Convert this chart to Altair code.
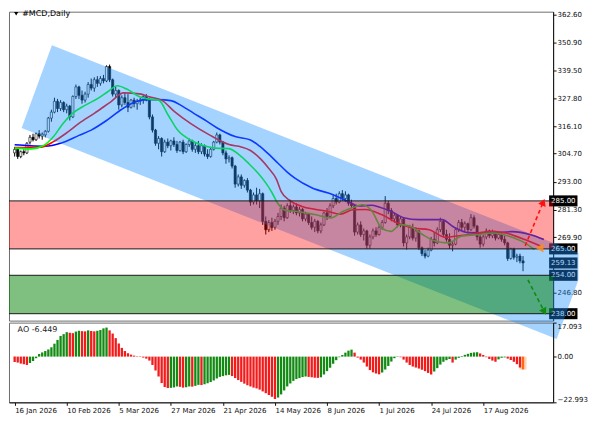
import json
import altair as alt
import pandas as pd

# ---------------- data ----------------
title_text = "#MCD,Daily"
date_labels = ["16 Jan 2026", "10 Feb 2026", "5 Mar 2026", "27 Mar 2026", "21 Apr 2026",
               "14 May 2026", "8 Jun 2026", "1 Jul 2026", "24 Jul 2026", "17 Aug 2026"]
date_label_bars = [0, 17, 34, 51, 68, 85, 102, 119, 136, 153]
price_ticks = [362.6, 350.9, 339.5, 327.8, 316.1, 304.7, 293.0, 281.3, 269.9, 246.8, 235.1]
level_prices = [285.0, 265.0, 254.0, 238.0]
box_prices = [285.0, 265.0, 259.13, 254.0, 238.0]
red_zone = [285.0, 265.0]
green_zone = [254.0, 238.0]

opens = [305, 306.5, 303.5, 305.5, 305, 309.5, 311.5, 310.5, 313, 312,
         312.5, 314, 319.5, 322, 326.5, 323.5, 326, 323, 324.5, 320,
         328.5, 332.5, 329, 327, 329.5, 333.5, 332, 335.5, 334, 336,
         335, 341, 335.5, 329.5, 331, 325, 328, 326, 324, 327,
         325.5, 326.5, 327, 328.5, 327, 320, 314.5, 309, 311, 305.5,
         309.5, 308, 310, 308.5, 306, 309.5, 305.5, 308.5, 310, 306.5,
         308, 305.5, 308, 304.5, 303.5, 306.5, 309.5, 312.5, 309.5, 305,
         302.5, 303, 299.5, 292, 295, 291.5, 293.5, 289.5, 284.5, 287.5,
         285, 288, 276.5, 273, 276, 274, 276.5, 278.5, 282, 278,
         283, 281, 282.5, 280, 281.5, 277.5, 279.5, 276, 274, 276.5,
         272.5, 275, 280, 278.5, 283, 286, 284.5, 288, 286, 287.5,
         284, 283, 272, 275, 271, 272.5, 266.5, 270, 272.5, 271,
         274, 276, 284, 281, 277.5, 279, 275, 277.5, 267.5, 270,
         274, 269.5, 272.5, 265.5, 263, 262, 264.5, 269, 267.5, 273,
         276.5, 271, 269, 266.5, 267, 273, 276, 274, 275.5, 273,
         278, 274.5, 270, 267, 270, 272.5, 270.5, 272, 269.5, 271,
         269, 267.5, 261, 265, 261.5, 262, 260]
highs = [307.5, 307, 306, 306.5, 309.5, 312.5, 313, 313.5, 314.5, 313.5,
         314.5, 320, 323, 328, 327.5, 327, 326.5, 325.5, 325, 329,
         333.5, 333, 331, 330.5, 334.5, 336, 336.5, 337, 337, 337.5,
         341.5, 341.8, 336, 332.5, 331.5, 329, 330, 329.5, 327.5, 328,
         327.5, 328, 329, 329.5, 328, 321, 315, 312, 311.5, 310.5,
         311, 310.5, 311.5, 310, 310, 310.5, 309, 311, 310.5, 309.5,
         310, 309, 308.5, 306.5, 307.5, 310, 313.5, 313, 310, 306,
         304, 303.5, 300, 296, 296, 294, 294.5, 290, 288.5, 290.5,
         290, 288.5, 278.5, 277, 278, 277.5, 280, 283.5, 283, 284,
         285.5, 283.5, 284, 282.5, 282, 280.5, 280, 278.5, 277.5, 277,
         276, 280.5, 282, 284, 287.5, 288, 289, 289.5, 289, 288,
         285.5, 283.5, 276, 276.5, 273.5, 273, 271, 273.5, 274, 275,
         277, 287, 285, 282, 280, 279.5, 278.5, 278, 271, 275,
         275.5, 274, 273, 266, 264.5, 265.5, 270, 272, 274, 278,
         277, 273, 271.5, 268, 274, 277, 277.5, 276.5, 276, 279.5,
         279, 275, 271.5, 271, 273.5, 273, 273, 272.5, 272, 271.5,
         270.5, 268, 265.5, 265.5, 263, 263, 262]
lows = [303.5, 302.5, 302.8, 304, 304.5, 308.5, 309.8, 310, 311, 310.5,
        311.5, 313.5, 318, 321.5, 322, 322.5, 322, 321.5, 318.5, 319.5,
        327.5, 327.5, 325.5, 326, 328, 331, 330.5, 332.5, 333, 334,
        334.5, 334.5, 328.5, 328, 323, 324, 325, 322, 323.5, 324,
        323, 325, 325.5, 326.5, 319, 313.5, 308, 306.5, 303.5, 305,
        307, 306, 307.5, 305, 305.5, 304.5, 305, 307.5, 305.5, 305,
        304.5, 304.5, 303.5, 302.5, 303, 306, 309, 308.5, 304, 300.5,
        301, 298.5, 290.5, 291, 290, 290.5, 288.5, 283, 283.5, 283.5,
        282, 275, 271, 272, 272.5, 273, 275, 277, 276.5, 277.5,
        280, 279.5, 279, 278.5, 276.5, 276.5, 275, 273, 272, 271.5,
        271.5, 274.5, 277, 278, 282, 283.5, 284, 285, 284.5, 283,
        282, 270.5, 271, 270, 268.5, 265, 265, 269, 270, 270.5,
        273, 275.5, 279.5, 276.5, 276, 274, 274, 266, 264.7, 269,
        268.5, 268, 264.5, 262, 261, 261.5, 264, 266, 267, 272,
        270, 268, 265, 264, 266.5, 272, 272.5, 272, 271.5, 272.5,
        273.5, 268.5, 265.5, 266, 269, 269.5, 269.5, 268.5, 269, 268,
        266.5, 260, 260.5, 260.5, 259.5, 259, 255.7]
closes = [306.5, 303.5, 305.5, 305, 309, 311.5, 310.5, 313, 312, 312.8,
          314, 319.5, 322, 326.5, 323.5, 326, 323, 324.5, 320, 328.5,
          332.5, 329, 327, 329.5, 333.5, 332, 335.5, 334, 336, 335,
          341, 335.5, 329.5, 331, 325, 328, 326, 324, 327, 325.5,
          326.5, 327, 328.5, 327, 320, 314.5, 309, 311, 305.5, 309.5,
          308, 310, 308.5, 306, 309.5, 305.5, 308.5, 310, 306.5, 308,
          305.5, 308, 304.5, 303.5, 306.5, 309.5, 312.5, 309.5, 305, 302.5,
          303, 299.5, 292, 295, 291.5, 293.5, 289.5, 284.5, 287.5, 285,
          288, 276.5, 273, 276, 274, 276.5, 278.5, 282, 278, 283,
          281, 282.5, 280, 281.5, 277.5, 279.5, 276, 274, 276.5, 272.5,
          275, 280, 278.5, 283, 286, 284.5, 288, 286, 287.5, 284,
          283, 272, 275, 271, 272.5, 266.5, 270, 272.5, 271, 274,
          276, 284, 281, 277.5, 279, 275, 277.5, 267.5, 270, 274,
          269.5, 272.5, 265.5, 263, 262, 264.5, 269, 267.5, 273, 276.5,
          271, 269, 266.5, 267, 273, 276, 274, 275.5, 273, 278,
          274.5, 270, 267, 270, 272.5, 270.5, 272, 269.5, 271, 269,
          267.5, 261, 265, 261.5, 262, 260, 259.13]

ao_values = [-2.7, -3.0, -3.5, -3.9, -4.2, -3.2, -2.2, -0.8, 1.3, 2.1,
             2.8, 3.6, 4.7, 6.5, 8.4, 10.4, 11.3, 12.3, 12.0, 11.8,
             12.6, 13.0, 12.8, 12.7, 13.2, 12.9, 12.7, 13.0, 13.4, 14.2,
             14.6, 13.2, 11.6, 9.3, 6.6, 4.4, 2.8, 1.7, 1.0, 0.5,
             0.2, -0.2, -0.5, -1.0, -2.0, -4.2, -7.0, -10.0, -13.3, -15.3,
             -15.8, -15.7, -15.5, -15.0, -15.2, -15.6, -15.4, -15.0, -15.1, -14.7,
             -14.2, -14.3, -13.9, -13.4, -12.8, -12.0, -11.0, -10.2, -9.8, -9.4,
             -9.2, -9.8, -10.8, -11.8, -12.7, -13.6, -14.4, -15.0, -15.6, -16.0,
             -16.6, -17.5, -18.4, -19.3, -20.2, -21.3, -20.6, -19.0, -17.0, -15.0,
             -13.5, -12.2, -11.3, -10.8, -10.3, -10.0, -10.2, -10.4, -10.6, -10.7,
             -10.4, -9.0, -7.3, -5.6, -3.6, -1.8, -0.3, 0.8, 2.0, 3.0,
             3.5, 2.0, -0.5, -1.5, -3.0, -5.0, -6.8, -7.9, -8.5, -8.9,
             -8.0, -6.5, -4.7, -2.5, -0.8, -0.2, -0.3, -1.5, -3.0, -4.2,
             -5.0, -5.5, -6.0, -6.6, -7.3, -8.2, -9.0, -7.5, -5.8, -4.0,
             -2.6, -1.8, -1.2, -3.0, -1.5, -0.6, 0.3, 0.9, 1.4, 1.9,
             2.1, 2.2, 1.6, 0.8, -0.3, -1.2, -2.0, -2.6, -1.4, -0.6,
             -0.4, -1.0, -1.7, -2.6, -3.8, -5.5, -6.449]
ao_ticks = [17.093, 0.0, -22.993]

jaw_bars = [0, 5, 10, 15, 21, 25, 30, 35, 39.5, 43, 47, 51, 55, 58.5, 62, 66, 72, 77, 80,
            82.5, 86, 89, 91.5, 97, 104, 108.5, 112.5, 116.5, 119, 123, 127, 132, 139.5,
            143.5, 148, 156, 162.5, 168.5, 172.8]
jaw_vals = [308.4, 308.0, 307.8, 309.0, 312.3, 314.5, 318.5, 323.2, 326.3, 327.2, 327.2, 326.8,
            324.3, 321.5, 318.8, 315.5, 311.8, 310.4, 307.8, 305.0, 300.7, 297.0, 294.5, 290.5,
            287.6, 285.0, 282.9, 283.2, 282.5, 280.6, 278.0, 277.2, 277.2, 274.0, 271.8, 271.6,
            272.2, 270.9, 268.9]
teeth_bars = [0, 8.5, 12.7, 16.8, 21, 26, 31.4, 35.6, 40.8, 44, 48, 52.2, 57.4, 63.6, 70, 74, 77,
              80.3, 83, 85.5, 87, 90, 93.8, 98, 102, 106.3, 110.5, 114.6, 119.8, 125, 130.2,
              135.4, 140.6, 143.7, 147.9, 156.2, 160.4, 166.6, 171.8]
teeth_vals = [307.2, 307.4, 309.7, 313.2, 317.3, 321.5, 326.3, 330.0, 329.6, 328.4, 327.0, 322.2,
              317.3, 312.5, 308.5, 307.5, 306.0, 302.5, 298.5, 294.0, 289.0, 285.0, 282.7, 281.5,
              280.7, 279.5, 281.3, 281.4, 279.3, 275.8, 273.7, 273.0, 269.8, 270.3, 270.9, 272.3,
              271.6, 268.9, 266.1]
lips_bars = [0, 5.4, 9.5, 12.7, 15.8, 18.9, 23.1, 27.2, 30.4, 33.5, 36.6, 40.8, 43.9, 47, 50.1,
             53.2, 57.4, 61.6, 65.7, 69.9, 74, 76.5, 79.5, 82, 84, 86, 88.6, 91.7, 98, 103.2,
             107.3, 111.5, 113.6, 116.7, 119.8, 122.9, 126, 129.2, 133.3, 137.5, 141.6, 145.8,
             151, 156.2, 161.4, 166.6, 169.7]
lips_vals = [307.0, 306.7, 308.1, 311.8, 317.3, 321.5, 324.9, 327.7, 330.5, 333.0, 331.6, 328.4,
             327.4, 327.0, 320.8, 314.5, 310.4, 308.1, 307.0, 306.8, 303.5, 300.5, 296.5, 292.5,
             288.5, 283.8, 281.0, 280.7, 279.3, 277.9, 280.7, 282.7, 283.4, 280.7, 273.7, 272.3,
             275.1, 274.4, 270.9, 268.2, 267.5, 270.3, 270.9, 271.6, 270.3, 267.5, 264.7]

channel_bars = [2.28, 12.17, 177.0, 184.1]
channel_upper = [315.34, 349.85, 266.92, 263.35]
channel_lower = [315.34, 310.36, 227.43, 252.18]

up_arrow_bars = [166.7, 172.6]
up_arrow_prices = [266.25, 284.5]
down_arrow_bars = [167.6, 172.95]
down_arrow_prices = [252.1, 238.85]
apex_bar = [171.4]
apex_price = [265.4]
box_bar_range = [174.52, 183.78]
title_pos = [0.5, 363.0]
ao_label_pos = [0.3, 13.2]

# ---------------- chart ----------------
FONT = "DejaVu Sans"
W = 546
H_MAIN = 310
H_AO = 80
N = len(closes)
bars = list(range(N))

xs = alt.Scale(domain=[-0.22, 174.2], nice=False, zero=False)
ys = alt.Scale(domain=[235.11, 363.85], nice=False, zero=False)
aos = alt.Scale(domain=[-22.993, 17.093], nice=False, zero=False)

price_axis = alt.Axis(orient="right", values=price_ticks, format=".2f", tickSize=3,
                      labelPadding=1, title=None, grid=False, labelFlush=False,
                      labelOverlap=False)


def X(f):
    return alt.X(f, type="quantitative", scale=xs, axis=None)


def Y(f):
    return alt.Y(f, type="quantitative", scale=ys, axis=price_axis)


candles = pd.DataFrame({"bar": bars, "open": opens, "high": highs, "low": lows, "close": closes})

wicks = alt.Chart(candles).mark_rule(color="#000", strokeWidth=1).encode(
    x=X("bar"), y=Y("low"), y2="high")
bodies = alt.Chart(candles).transform_calculate(
    dir="datum.close >= datum.open ? 'up' : 'down'"
).mark_bar(size=2.2, stroke="#000", strokeWidth=0.6).encode(
    x=X("bar"), y=Y("open"), y2="close",
    fill=alt.Fill("dir:N", scale=alt.Scale(domain=["up", "down"], range=["#ffffff", "#000000"]),
                  legend=None))


def ma(b, v, color):
    df = pd.DataFrame({"bar": b, "val": v})
    return alt.Chart(df).mark_line(color=color, strokeWidth=1.6, interpolate="monotone").encode(
        x=X("bar"), y=Y("val"))


jaw = ma(jaw_bars, jaw_vals, "#0000ff")
teeth = ma(teeth_bars, teeth_vals, "#ff0000")
lips = ma(lips_bars, lips_vals, "#00ff00")

boxes_df = pd.DataFrame({"price": box_prices})
box_rects = alt.Chart(boxes_df).transform_calculate(
    top="datum.price + 2.3", bot="datum.price - 2.3"
).mark_rect(color="#000").encode(
    x=alt.X(datum=box_bar_range[0], type="quantitative", scale=xs, axis=None),
    x2=alt.X2(datum=box_bar_range[1]),
    y=Y("top"), y2="bot")
box_text = alt.Chart(boxes_df).mark_text(color="#ffffff", font=FONT, fontSize=7,
                                         align="center", baseline="middle").encode(
    x=alt.X(datum=(box_bar_range[0] + box_bar_range[1]) / 2, type="quantitative", scale=xs, axis=None),
    y=Y("price"), text=alt.Text("price:Q", format=".2f"))

channel_df = pd.DataFrame({"bar": channel_bars, "upper": channel_upper, "lower": channel_lower})
channel = alt.Chart(channel_df).mark_area(color="#1e90ff", opacity=0.4).encode(
    x=X("bar"), y=Y("upper"), y2="lower")

red_df = pd.DataFrame({"top": [red_zone[0]], "bottom": [red_zone[1]]})
green_df = pd.DataFrame({"top": [green_zone[0]], "bottom": [green_zone[1]]})
red_rect = alt.Chart(red_df).mark_rect(color="#ff0000", opacity=0.37).encode(y=Y("top"), y2="bottom")
green_rect = alt.Chart(green_df).mark_rect(color="#008000", opacity=0.5).encode(y=Y("top"), y2="bottom")

levels = alt.Chart(pd.DataFrame({"price": level_prices})).mark_rule(
    color="#1a1a1a", strokeWidth=1).encode(y=Y("price"))

up_df = pd.DataFrame({"bar": up_arrow_bars, "price": up_arrow_prices})
dn_df = pd.DataFrame({"bar": down_arrow_bars, "price": down_arrow_prices})
up_line = alt.Chart(up_df).mark_line(color="#ff1010", strokeWidth=1.6, strokeDash=[4, 3]).encode(
    x=X("bar"), y=Y("price"))
dn_line = alt.Chart(dn_df).mark_line(color="#108a10", strokeWidth=1.6, strokeDash=[4, 3]).encode(
    x=X("bar"), y=Y("price"))
up_head = alt.Chart(up_df.tail(1)).mark_point(shape="triangle-up", filled=True, size=65, angle=23,
                                               color="#ff1010", opacity=1).encode(
    x=X("bar"), y=Y("price"))
dn_head = alt.Chart(dn_df.tail(1)).mark_point(shape="triangle-up", filled=True, size=65, angle=152,
                                               color="#108a10", opacity=1).encode(
    x=X("bar"), y=Y("price"))
apex = alt.Chart(pd.DataFrame({"bar": apex_bar, "price": apex_price})).mark_point(
    shape="triangle-left", filled=True, size=80, color="#ff8c1a", opacity=0.85).encode(
    x=X("bar"), y=Y("price"))

title_df = pd.DataFrame({"bar": [title_pos[0]], "price": [title_pos[1]], "t": [title_text]})
title_tri = alt.Chart(title_df).mark_point(shape="triangle-down", filled=True, size=18,
                                           color="#000", opacity=1).encode(x=X("bar"), y=Y("price"))
title_txt = alt.Chart(title_df).mark_text(align="left", baseline="middle", font=FONT, fontSize=8,
                                          color="#000", dx=6).encode(
    x=X("bar"), y=Y("price"), text="t:N")

main = alt.layer(wicks, bodies, jaw, teeth, lips, box_rects, box_text, channel,
                 red_rect, green_rect, levels, up_line, dn_line, up_head, dn_head, apex,
                 title_tri, title_txt).properties(width=W, height=H_MAIN)

# ---------------- AO panel ----------------
date_expr = "{}[indexof({}, datum.value)]".format(json.dumps(date_labels), json.dumps(date_label_bars))
date_axis = alt.Axis(orient="bottom", values=date_label_bars, labelExpr=date_expr, labelAlign="left",
                     tickSize=3, labelPadding=1, title=None, grid=False, labelFlush=False,
                     labelOverlap=False)
ao_axis = alt.Axis(orient="right", values=ao_ticks, tickSize=3, labelPadding=1, title=None,
                   grid=False, labelFlush=False, labelOverlap=False,
                   labelExpr="datum.value == 0 ? '0.00' : format(datum.value, '.3f')",
                   labelBaseline={"condition": [{"test": "datum.value > 10", "value": "top"},
                                                {"test": "datum.value < -10", "value": "bottom"}],
                                  "value": "middle"})

ao_df = pd.DataFrame({"bar": bars, "ao": ao_values})
AX = alt.X("bar:Q", scale=xs, axis=date_axis)
ao_bars = alt.Chart(ao_df).transform_window(
    window=[alt.WindowFieldDef(op="lag", field="ao", **{"as": "prev"})],
    sort=[alt.SortField("bar")]
).transform_calculate(
    dir="datum.bar == {} ? 'last' : ((datum.prev == null || datum.ao < datum.prev) ? 'down' : 'up')".format(N - 1)
).mark_bar(size=2.3).encode(
    x=AX,
    y=alt.Y("ao:Q", scale=aos, axis=ao_axis),
    y2=alt.datum(0),
    color=alt.Color("dir:N", scale=alt.Scale(domain=["up", "down", "last"],
                                             range=["#138a13", "#f21a1a", "#ff6a13"]), legend=None))
ao_glow = alt.Chart(ao_df.tail(1)).mark_bar(size=7, color="#ffa060", opacity=0.45).encode(
    x=AX, y=alt.Y("ao:Q", scale=aos, axis=ao_axis), y2=alt.datum(0))
ao_lbl_df = pd.DataFrame({"bar": [ao_label_pos[0]], "v": [ao_label_pos[1]],
                          "t": ["AO {}".format(ao_values[-1])]})
ao_text = alt.Chart(ao_lbl_df).mark_text(align="left", baseline="middle", font=FONT, fontSize=8,
                                         color="#222", dx=2).encode(
    x=AX, y=alt.Y("v:Q", scale=aos, axis=ao_axis), text="t:N")

ao = alt.layer(ao_glow, ao_bars, ao_text).properties(width=W, height=H_AO)

chart = alt.vconcat(main, ao, spacing=2, bounds="flush").resolve_scale(
    x="independent", y="independent"
).properties(padding=0, background="white").configure_view(
    stroke="#6e6e6e", strokeWidth=1
).configure_axis(
    labelFont=FONT, labelFontSize=7, labelColor="#111", tickColor="#111", domainColor="#111"
)

chart.save("out.html", embed_options={"renderer": "svg", "actions": False})
